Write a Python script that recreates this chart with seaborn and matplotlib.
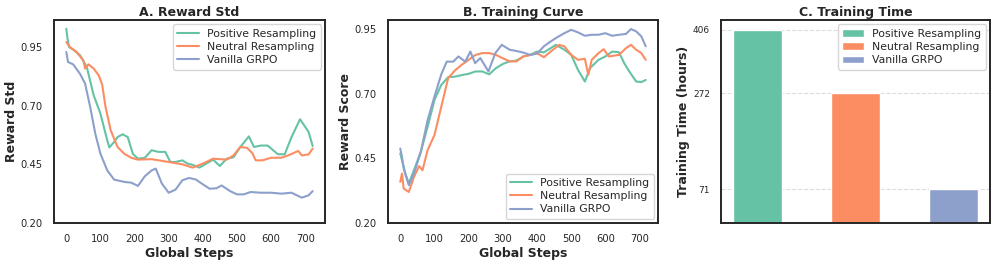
import numpy as np
import pandas as pd
import matplotlib
matplotlib.use("Agg")
import matplotlib.pyplot as plt
import seaborn as sns

methods = ["Positive Resampling", "Neutral Resampling", "Vanilla GRPO"]

# Panel A: reward std
A_pos_steps = [0, 3, 8, 20, 40, 60, 80, 100, 120, 126, 140, 150, 165, 180, 195, 210, 230, 250, 270, 290, 305, 320, 340, 355, 370, 390, 410, 430, 450, 470, 490, 510, 535, 550, 570, 590, 620, 640, 660, 685, 710, 722]
A_pos = [1.028, 0.99, 0.95, 0.939, 0.915, 0.865, 0.745, 0.666, 0.552, 0.522, 0.545, 0.566, 0.578, 0.566, 0.495, 0.474, 0.478, 0.51, 0.503, 0.503, 0.46, 0.46, 0.467, 0.453, 0.448, 0.436, 0.453, 0.47, 0.443, 0.474, 0.48, 0.524, 0.569, 0.524, 0.53, 0.53, 0.493, 0.493, 0.566, 0.642, 0.588, 0.528]
A_neu_steps = [0, 10, 30, 50, 55, 65, 80, 95, 105, 115, 130, 150, 170, 190, 210, 250, 300, 340, 370, 400, 430, 470, 490, 510, 530, 545, 555, 575, 600, 630, 650, 680, 690, 710, 722]
A_neu = [0.971, 0.95, 0.929, 0.893, 0.858, 0.876, 0.858, 0.829, 0.79, 0.694, 0.595, 0.524, 0.495, 0.478, 0.47, 0.472, 0.46, 0.45, 0.436, 0.453, 0.474, 0.47, 0.488, 0.524, 0.52, 0.498, 0.467, 0.467, 0.478, 0.478, 0.488, 0.507, 0.488, 0.492, 0.517]
A_van_steps = [0, 5, 20, 40, 55, 70, 85, 100, 120, 140, 170, 190, 210, 230, 250, 262, 280, 300, 320, 340, 360, 380, 400, 420, 440, 455, 480, 500, 520, 540, 570, 600, 630, 660, 690, 710, 722]
A_van = [0.929, 0.886, 0.876, 0.836, 0.794, 0.694, 0.58, 0.495, 0.424, 0.385, 0.375, 0.372, 0.358, 0.399, 0.424, 0.432, 0.368, 0.329, 0.342, 0.382, 0.392, 0.385, 0.365, 0.346, 0.348, 0.36, 0.336, 0.322, 0.322, 0.332, 0.329, 0.329, 0.325, 0.329, 0.308, 0.318, 0.336]

# Panel B: training curve
B_pos_steps = [0, 5, 15, 25, 40, 60, 80, 100, 120, 140, 160, 180, 200, 220, 240, 260, 280, 300, 320, 340, 360, 380, 400, 420, 440, 455, 480, 500, 520, 540, 555, 580, 600, 620, 640, 655, 670, 690, 705, 718]
B_pos = [0.469, 0.443, 0.391, 0.353, 0.404, 0.475, 0.572, 0.676, 0.734, 0.764, 0.766, 0.772, 0.777, 0.786, 0.786, 0.775, 0.799, 0.815, 0.825, 0.828, 0.844, 0.85, 0.863, 0.86, 0.876, 0.889, 0.87, 0.85, 0.792, 0.747, 0.799, 0.831, 0.844, 0.863, 0.86, 0.818, 0.786, 0.747, 0.745, 0.753]
B_neu_steps = [0, 5, 10, 25, 40, 55, 65, 80, 100, 120, 140, 160, 180, 200, 220, 240, 260, 280, 300, 320, 340, 360, 380, 400, 420, 440, 465, 480, 500, 520, 540, 550, 560, 580, 595, 610, 640, 660, 675, 690, 705, 718]
B_neu = [0.359, 0.391, 0.333, 0.32, 0.378, 0.42, 0.404, 0.482, 0.54, 0.65, 0.76, 0.79, 0.812, 0.831, 0.85, 0.857, 0.857, 0.85, 0.837, 0.825, 0.825, 0.844, 0.85, 0.857, 0.841, 0.863, 0.889, 0.883, 0.85, 0.831, 0.835, 0.773, 0.831, 0.857, 0.872, 0.844, 0.85, 0.876, 0.889, 0.87, 0.857, 0.831]
B_van_steps = [0, 5, 10, 25, 40, 60, 80, 100, 120, 136, 155, 170, 190, 205, 219, 234, 258, 278, 297, 320, 340, 360, 380, 400, 420, 440, 460, 480, 500, 520, 540, 560, 580, 600, 620, 640, 660, 675, 690, 705, 718]
B_van = [0.488, 0.456, 0.41, 0.346, 0.391, 0.475, 0.598, 0.689, 0.775, 0.824, 0.824, 0.844, 0.824, 0.863, 0.818, 0.838, 0.786, 0.857, 0.889, 0.87, 0.865, 0.859, 0.85, 0.855, 0.883, 0.902, 0.919, 0.934, 0.947, 0.937, 0.924, 0.928, 0.928, 0.934, 0.924, 0.928, 0.931, 0.95, 0.941, 0.922, 0.883]

# Panel C: training time
hours = [406, 272, 71]

A_yticks = [0.20, 0.45, 0.70, 0.95]
B_yticks = [0.20, 0.45, 0.70, 0.95]
A_xticks = [0, 100, 200, 300, 400, 500, 600, 700]


def long_df(steps_list, vals_list):
    frames = []
    for m, s, v in zip(methods, steps_list, vals_list):
        frames.append(pd.DataFrame({"step": s, "value": v, "method": m}))
    return pd.concat(frames, ignore_index=True)


dfA = long_df([A_pos_steps, A_neu_steps, A_van_steps], [A_pos, A_neu, A_van])
dfB = long_df([B_pos_steps, B_neu_steps, B_van_steps], [B_pos, B_neu, B_van])
dfC = pd.DataFrame({"method": methods, "hours": hours})

sns.set_theme(style="white")
plt.rcParams["font.family"] = ["DejaVu Sans"]
plt.rcParams["axes.edgecolor"] = "#262626"
plt.rcParams["axes.linewidth"] = 1.4

palette = sns.color_palette("Set2", 3)

W, H = 996, 264
fig = plt.figure(figsize=(W / 100, H / 100), dpi=100)


def px_axes(l, t, r, b):
    return fig.add_axes([l / W, 1 - b / H, (r - l) / W, (b - t) / H])


axA = px_axes(54, 20, 325, 223)
axB = px_axes(388, 20, 658, 223)
axC = px_axes(721, 20, 990, 223)

title_kw = dict(fontsize=9, fontweight="bold", pad=3)
label_kw = dict(fontsize=9, fontweight="bold", labelpad=2)

# A
sns.lineplot(data=dfA, x="step", y="value", hue="method", hue_order=methods,
             palette=palette, linewidth=1.5, ax=axA, sort=False)
axA.set_ylim(0.2, 1.065)
axA.set_yticks(A_yticks)
axA.set_yticklabels([f"{t:.2f}" for t in A_yticks])
axA.set_xticks(A_xticks)
axA.set_title("A. Reward Std", **title_kw)
axA.set_xlabel("Global Steps", **label_kw)
axA.set_ylabel("Reward Std", **label_kw)
axA.tick_params(labelsize=7.2, pad=2)
axA.legend(loc="upper right", fontsize=7.8, frameon=True, borderaxespad=0.4,
           handlelength=2.0, labelspacing=0.3)

# B
sns.lineplot(data=dfB, x="step", y="value", hue="method", hue_order=methods,
             palette=palette, linewidth=1.5, ax=axB, sort=False)
axB.set_ylim(0.2, 0.985)
axB.set_yticks(B_yticks)
axB.set_yticklabels([f"{t:.2f}" for t in B_yticks])
axB.set_xticks(A_xticks)
axB.set_title("B. Training Curve", **title_kw)
axB.set_xlabel("Global Steps", **label_kw)
axB.set_ylabel("Reward Score", **label_kw)
axB.tick_params(labelsize=7.2, pad=2)
axB.legend(loc="lower right", fontsize=7.8, frameon=True, borderaxespad=0.4,
           handlelength=2.0, labelspacing=0.3)

# C
sns.barplot(data=dfC, x="method", y="hours", hue="method", hue_order=methods,
            order=methods, palette=palette, width=0.5, dodge=False,
            saturation=1.0, edgecolor="white", linewidth=1.0, ax=axC,
            legend=True, zorder=2)
axC.set_xlim(-0.375, 2.375)
axC.set_ylim(0, 426)
axC.set_yticks(hours[::-1])
axC.set_yticklabels([str(h) for h in hours[::-1]])
axC.yaxis.grid(True, linestyle="--", color="#dddddd", linewidth=0.8, zorder=0)
axC.set_axisbelow(True)
axC.set_xticks([])
axC.set_xlabel("")
axC.set_title("C. Training Time", **title_kw)
axC.set_ylabel("Training Time (hours)", **label_kw)
axC.tick_params(labelsize=6.5, pad=2)
axC.legend(loc="upper right", fontsize=7.8, frameon=True, borderaxespad=0.4,
           handlelength=2.0, labelspacing=0.3)

fig.savefig("out.png", dpi=100)
